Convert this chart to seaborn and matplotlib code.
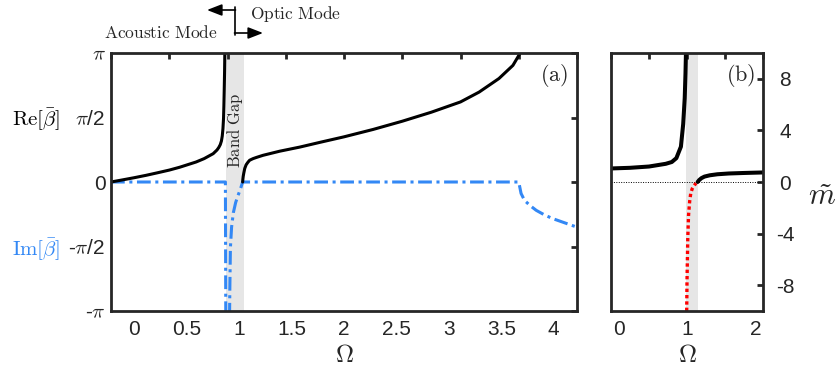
import numpy as np
import pandas as pd
import matplotlib
matplotlib.use("Agg")
import matplotlib.pyplot as plt
import seaborn as sns
from matplotlib.lines import Line2D

# ---------------- data ----------------
# panel (a): Re[beta] acoustic branch
omega_acoustic = [0.0, 0.1, 0.2, 0.3, 0.4, 0.5, 0.59, 0.73, 0.8, 0.877, 0.91,
                  0.925, 0.938, 0.948, 0.955, 0.961, 0.966, 0.969, 0.972,
                  0.975, 0.977]
re_acoustic = [0.0, 0.052, 0.105, 0.162, 0.225, 0.29, 0.36, 0.487, 0.57, 0.69,
               0.78, 0.84, 0.91, 1.0, 1.12, 1.3, 1.55, 1.85, 2.25, 2.7, 3.1416]
# panel (a): Re[beta] optic branch
omega_optic = [1.13, 1.132, 1.135, 1.14, 1.148, 1.16, 1.175, 1.19, 1.22, 1.25,
               1.305, 1.448, 1.62, 1.8, 2.0, 2.25, 2.5, 2.75, 3.0, 3.16, 3.33,
               3.45, 3.5, 3.51]
re_optic = [0.0, 0.07, 0.14, 0.22, 0.33, 0.42, 0.48, 0.53, 0.57, 0.6, 0.65,
            0.75, 0.85, 0.97, 1.1, 1.28, 1.48, 1.7, 1.95, 2.19, 2.52, 2.84,
            3.08, 3.1416]
# panel (a): Im[beta]
omega_im = [0.0, 0.982, 0.984, 0.986, 1.015, 1.02, 1.025, 1.035, 1.05, 1.07,
            1.09, 1.11, 1.13, 3.5, 3.52, 3.55, 3.6, 3.65, 3.72, 3.79, 3.9, 4.0]
im_beta = [0.0, 0.0, -2.0, -4.0, -4.0, -2.6, -1.6, -1.1, -0.75, -0.5, -0.33,
           -0.18, 0.0, 0.0, -0.28, -0.45, -0.58, -0.69, -0.8, -0.89, -1.0, -1.1]

# panel (b): effective mass m~
omega_m_low = [0.0, 0.25, 0.5, 0.72, 0.8, 0.86, 0.92, 0.95, 0.97, 0.98, 0.99]
m_low = [1.05, 1.1, 1.2, 1.41, 1.55, 1.85, 2.74, 4.5, 6.5, 8.4, 11.0]
omega_m_high = [1.14, 1.16, 1.19, 1.23, 1.3, 1.4, 1.55, 1.75, 2.0]
m_high = [0.0, 0.15, 0.3, 0.42, 0.52, 0.6, 0.66, 0.7, 0.74]
omega_m_neg = [0.996, 1.0, 1.01, 1.02, 1.035, 1.05, 1.07, 1.085, 1.1, 1.12]
m_neg = [-10.0, -7.7, -4.4, -2.6, -1.5, -0.85, -0.5, -0.34, -0.22, -0.1]

band_gap = [0.985, 1.14]

xticks_a = [0, 0.5, 1, 1.5, 2, 2.5, 3, 3.5, 4]
xticklabels_a = ["0", "0.5", "1", "1.5", "2", "2.5", "3", "3.5", "4"]
yticks_a = [-np.pi, -np.pi / 2, 0, np.pi / 2, np.pi]
yticklabels_a = [r"-$\pi$", r"-$\pi$/2", "0", r"$\pi$/2", r"$\pi$"]
xticks_b = [0, 0.5, 1, 1.5, 2]
xlabels_b_pos = [0, 1, 2]
xticklabels_b = ["0", "1", "2"]
yticks_b = [-8, -4, 0, 4, 8]
yticklabels_b = ["-8", "-4", "0", "4", "8"]

# ---------------- style ----------------
sns.set_style("white")
plt.rcParams["font.family"] = ["Liberation Sans", "DejaVu Sans"]
plt.rcParams["mathtext.fontset"] = "cm"
plt.rcParams["axes.unicode_minus"] = False

BLUE = "#3388f5"
SPINE = "#262626"
TICK_FS = 15

fig = plt.figure(figsize=(8.39, 3.68), dpi=100)
ax_a = fig.add_axes([111 / 839, 57 / 368, 466 / 839, 258 / 368])
ax_b = fig.add_axes([611 / 839, 57 / 368, 152 / 839, 258 / 368])

# ---------------- panel (a) ----------------
ax_a.axvspan(band_gap[0], band_gap[1], color="#e6e6e6", lw=0, zorder=0)
sns.lineplot(x=omega_im, y=im_beta, ax=ax_a, color=BLUE, lw=2.2,
             estimator=None, sort=False, linestyle=(0, (4.5, 1.5, 1, 1.5)))
sns.lineplot(x=omega_acoustic, y=re_acoustic, ax=ax_a, color="black", lw=2.2,
             estimator=None, sort=False)
sns.lineplot(x=omega_optic, y=re_optic, ax=ax_a, color="black", lw=2.2,
             estimator=None, sort=False)
ax_a.set_xlim(0, 4)
ax_a.set_ylim(-np.pi, np.pi)
ax_a.set_xticks(xticks_a)
ax_a.set_yticks(yticks_a, yticklabels_a)
ax_a.tick_params(direction="in", length=4, width=2, color=SPINE, top=True,
                 right=True, labelbottom=False, labelsize=TICK_FS, pad=4)

sec_a = ax_a.secondary_xaxis(
    "bottom",
    functions=(lambda x: 2 + (np.asarray(x) - 2) / 0.9,
               lambda v: 2 + 0.9 * (np.asarray(v) - 2)))
sec_a.set_xticks(xticks_a, xticklabels_a)
sec_a.tick_params(length=0, labelsize=TICK_FS, pad=6.5)
sec_a.spines["bottom"].set_visible(False)

ax_a.set_xlabel(r"$\Omega$", fontsize=18)
ax_a.xaxis.set_label_coords(0.5, -0.17)
ax_a.xaxis.label.set_va("center")

ax_a.text(-0.161, 0.74, r"$\mathrm{Re}[\bar{\beta}]$", transform=ax_a.transAxes,
          ha="center", va="center", fontsize=15, color="black")
ax_a.text(-0.161, 0.236, r"$\mathrm{Im}[\bar{\beta}]$", transform=ax_a.transAxes,
          ha="center", va="center", fontsize=15, color=BLUE)
ax_a.text(0.951, 0.911, r"$\mathrm{(a)}$", transform=ax_a.transAxes,
          ha="center", va="center", fontsize=16)
ax_a.text(1.0625, 1.26, r"$\mathrm{Band\ Gap}$", rotation=90, ha="center",
          va="center", fontsize=12)

# mode annotation above panel (a)
fig.text(218 / 839, 1 - 32 / 368, r"$\mathrm{Acoustic\ Mode}$", ha="right",
         va="center", fontsize=12.5)
fig.text(250 / 839, 1 - 14 / 368, r"$\mathrm{Optic\ Mode}$", ha="left",
         va="center", fontsize=12.5)
fig.add_artist(Line2D([235 / 839, 235 / 839], [1 - 7 / 368, 1 - 35 / 368],
                      color="black", lw=1.2, transform=fig.transFigure))
ax_a.annotate("", xy=(207 / 839, 1 - 10 / 368), xytext=(235.5 / 839, 1 - 10 / 368),
              xycoords="figure fraction", textcoords="figure fraction",
              arrowprops=dict(arrowstyle="-|>,head_length=0.9,head_width=0.35",
                              color="black", lw=1.2, shrinkA=0, shrinkB=0))
ax_a.annotate("", xy=(263 / 839, 1 - 33 / 368), xytext=(234.5 / 839, 1 - 33 / 368),
              xycoords="figure fraction", textcoords="figure fraction",
              arrowprops=dict(arrowstyle="-|>,head_length=0.9,head_width=0.35",
                              color="black", lw=1.2, shrinkA=0, shrinkB=0))

# ---------------- panel (b) ----------------
ax_b.axvspan(band_gap[0], band_gap[1], color="#e6e6e6", lw=0, zorder=0)
ax_b.axhline(0, color="black", lw=0.7, ls=(0, (1, 1.5)), zorder=1)
sns.lineplot(x=omega_m_low, y=m_low, ax=ax_b, color="black", lw=2.9,
             estimator=None, sort=False)
sns.lineplot(x=omega_m_high, y=m_high, ax=ax_b, color="black", lw=2.9,
             estimator=None, sort=False)
line_neg = sns.lineplot(x=omega_m_neg, y=m_neg, ax=ax_b, color="red", lw=2.4,
                        estimator=None, sort=False,
                        linestyle=(0, (1, 0.9))).lines[-1]
line_neg.set_dash_capstyle("butt")
ax_b.set_xlim(0, 2)
ax_b.set_ylim(-10, 10)
ax_b.set_xticks(xticks_b)
ax_b.set_yticks(yticks_b, yticklabels_b)
ax_b.tick_params(direction="in", length=4, width=2, color=SPINE, top=True,
                 right=True, labelbottom=False, labelleft=False,
                 labelright=True, labelsize=TICK_FS, pad=16)
for t in ax_b.yaxis.get_major_ticks():
    t.label2.set_horizontalalignment("center")

sec_b = ax_b.secondary_xaxis(
    "bottom",
    functions=(lambda x: 1 + (np.asarray(x) - 1) / 0.9,
               lambda v: 1 + 0.9 * (np.asarray(v) - 1)))
sec_b.set_xticks(xlabels_b_pos, xticklabels_b)
sec_b.tick_params(length=0, labelsize=TICK_FS, pad=6.5)
sec_b.spines["bottom"].set_visible(False)

ax_b.set_xlabel(r"$\Omega$", fontsize=18)
ax_b.xaxis.set_label_coords(0.5, -0.17)
ax_b.xaxis.label.set_va("center")
ax_b.set_ylabel(r"$\tilde{m}$", fontsize=22, rotation=0, ha="center", va="center")
ax_b.yaxis.set_label_position("right")
ax_b.yaxis.set_label_coords(1.388, 0.5)
ax_b.text(0.855, 0.911, r"$\mathrm{(b)}$", transform=ax_b.transAxes,
          ha="center", va="center", fontsize=16)

for ax in (ax_a, ax_b):
    for sp in ax.spines.values():
        sp.set_visible(True)
        sp.set_linewidth(2.0)
        sp.set_color(SPINE)
    if ax.get_legend() is not None:
        ax.get_legend().remove()

fig.savefig("out.png", dpi=100)
